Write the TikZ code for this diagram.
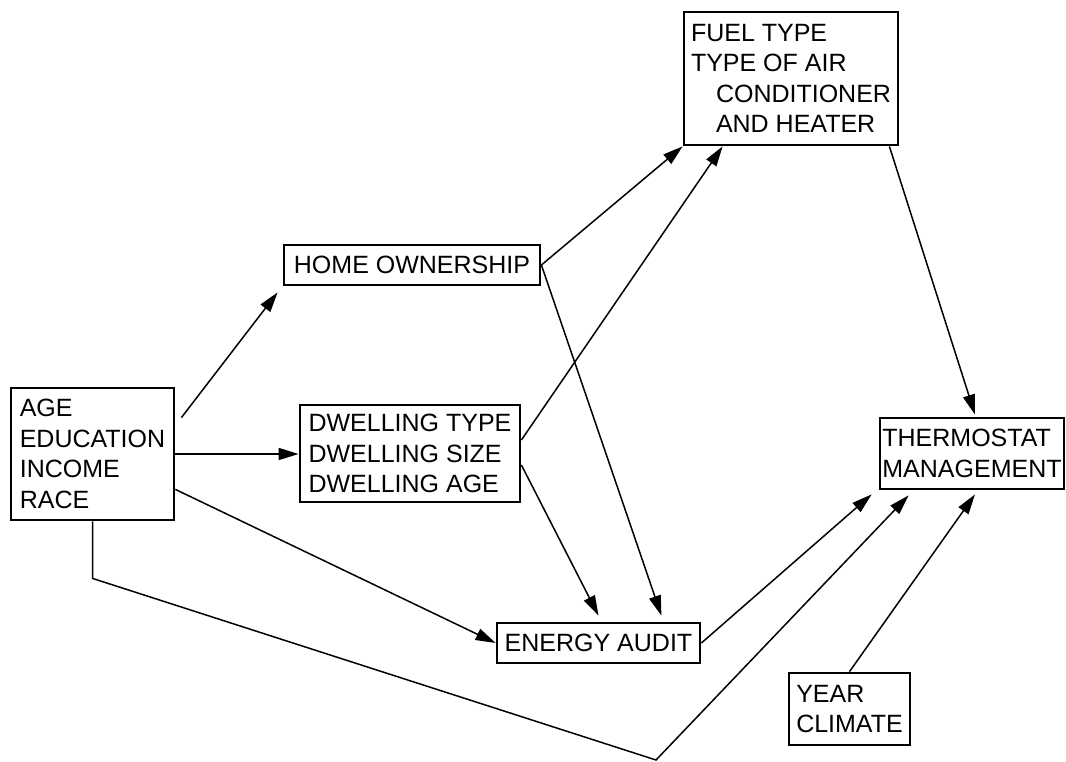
\documentclass[tikz,border=0pt]{standalone}
\usepackage{fontspec}
\setmainfont{Liberation Sans}
\usetikzlibrary{arrows.meta}
\tikzset{
factor/.style={shape=rectangle, draw, line width=2.8pt, inner sep=0pt, align=left, font=\fontsize{25}{30.5}\selectfont},
link/.style={line width=1.5pt, -{Triangle[length=20pt, width=12pt]}}, route/.style={link, line join=miter}}
\begin{document}
\begin{tikzpicture}[x=1pt, y=-1pt]
\useasboundingbox (0,0) rectangle (1066,761);
\node [factor, minimum width=163pt, minimum height=132pt] at (92.5,454) (demo) {AGE\\EDUCATION\\INCOME\\RACE};
\node [factor, minimum width=256pt, minimum height=40pt] at (412,265) (home) {HOME OWNERSHIP};
\node [factor, minimum width=220pt, minimum height=97pt] at (410,453.5) (dwell) {DWELLING TYPE\\DWELLING SIZE\\DWELLING AGE};
\node [factor, minimum width=214pt, minimum height=133pt] at (791,78.5) (fuel) {FUEL TYPE\\TYPE OF AIR\\\hspace*{25pt}CONDITIONER\\\hspace*{25pt}AND HEATER};
\node [factor, minimum width=184pt, minimum height=71pt] at (972,453.5) (therm) {THERMOSTAT\\MANAGEMENT};
\node [factor, minimum width=203pt, minimum height=40pt] at (598.5,643) (audit) {ENERGY AUDIT};
\node [factor, minimum width=121pt, minimum height=72pt] at (849.5,709) (year) {YEAR\\CLIMATE};
\coordinate (low) at (656,760);
\draw [link] ([shift={(6,31)}]demo.north east) -- ([shift={(-5,6)}]home.south west);
\draw [link] (demo.east) -- (demo.east -| dwell.west);
\draw [link] ([shift={(0,-32)}]demo.south east) -- (audit.west);
\draw [route] (demo.south) -- ++(0,57) -- (low) -- ([shift={(30,5)}]therm.south west);
\draw [link] (home.east) -- (fuel.south west);
\draw [link] (home.east) -- ([shift={(-40,-6)}]audit.north east);
\draw [link] ([shift={(0,-13.5)}]dwell.east) -- ([shift={(40,0)}]fuel.south west);
\draw [link] ([shift={(0,11.5)}]dwell.east) -- ([shift={(0,-6)}]audit.north);
\draw [link] ([shift={(-10,0)}]fuel.south east) -- ([shift={(3,-2)}]therm.north);
\draw [link] (audit.east) -- ([shift={(-7,4)}]therm.south west);
\draw [link] (year.north) -- ([shift={(3,4)}]therm.south);
\end{tikzpicture}
\end{document}
